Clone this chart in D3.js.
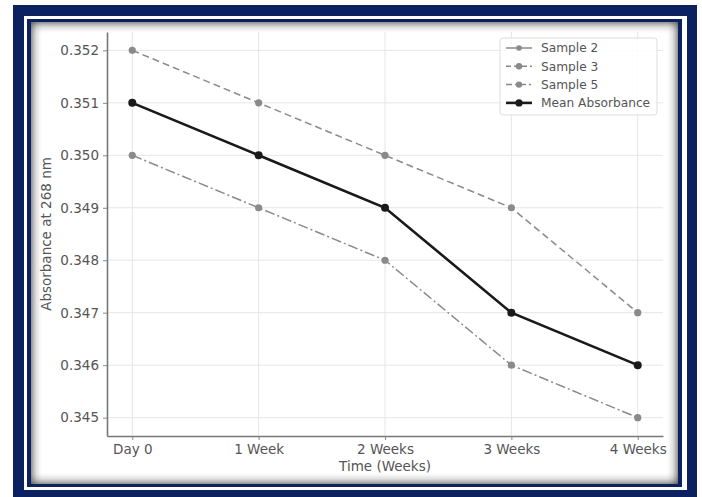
<!DOCTYPE html>
<html>
<head>
<meta charset="utf-8">
<script src="https://cdn.jsdelivr.net/npm/d3@7"></script>
<style>
html,body{margin:0;padding:0;background:#fff;}
svg{display:block;}
text{font-family:"DejaVu Sans",sans-serif;}
</style>
</head>
<body>
<svg id="chart" width="702" height="497"></svg>
<script>
const categories = ["Day 0", "1 Week", "2 Weeks", "3 Weeks", "4 Weeks"];
const sample2 = [0.351, 0.350, 0.349, 0.347, 0.346];
const sample3 = [0.352, 0.351, 0.350, 0.349, 0.347];
const sample5 = [0.350, 0.349, 0.348, 0.346, 0.345];
const meanAbs = [0.351, 0.350, 0.349, 0.347, 0.346];
const yTicks = [0.345, 0.346, 0.347, 0.348, 0.349, 0.350, 0.351, 0.352];
const seriesNames = ["Sample 2", "Sample 3", "Sample 5", "Mean Absorbance"];

const svg = d3.select("#chart");
const navy = "#0b2160";

// Frame
svg.append("rect").attr("x",13).attr("y",5).attr("width",684).attr("height",500).attr("fill",navy);
svg.append("rect").attr("x",24).attr("y",16).attr("width",663).attr("height",474).attr("fill","#fff");
svg.append("rect").attr("x",27).attr("y",19).attr("width",655).attr("height",468).attr("fill",navy);
const cx0=31, cy0=22, cw=647, ch=462;
svg.append("rect").attr("x",cx0).attr("y",cy0).attr("width",cw).attr("height",ch).attr("fill","#fff");

const defs = svg.append("defs");
defs.append("clipPath").attr("id","contentClip").append("rect")
  .attr("x",cx0).attr("y",cy0).attr("width",cw).attr("height",ch);
const f = defs.append("filter").attr("id","blur").attr("x","-10%").attr("y","-10%").attr("width","120%").attr("height","120%");
f.append("feGaussianBlur").attr("stdDeviation",5);
svg.append("g").attr("clip-path","url(#contentClip)")
  .append("rect")
  .attr("x",cx0-6).attr("y",cy0-6).attr("width",cw+12).attr("height",ch+12)
  .attr("fill","none").attr("stroke","#222").attr("stroke-width",14)
  .attr("filter","url(#blur)").attr("opacity",0.85);

// Axes
const pLeft=107, pRight=663, pTop=32, pBottom=436;
const x = d3.scaleLinear().domain([-0.2, 4.2]).range([pLeft, pRight]);
const y = d3.scaleLinear().domain([0.34465, 0.35235]).range([pBottom, pTop]);

const g = svg.append("g");
// grid
g.append("g").selectAll("line").data(categories).join("line")
  .attr("x1",(d,i)=>x(i)).attr("x2",(d,i)=>x(i)).attr("y1",pTop).attr("y2",pBottom)
  .attr("stroke","#e6e6e6").attr("stroke-width",1);
g.append("g").selectAll("line").data(yTicks).join("line")
  .attr("x1",pLeft).attr("x2",pRight).attr("y1",d=>y(d)).attr("y2",d=>y(d))
  .attr("stroke","#e6e6e6").attr("stroke-width",1);

const xAxis = g.append("g").attr("transform",`translate(0,${pBottom})`)
  .call(d3.axisBottom(x).tickValues([0,1,2,3,4]).tickFormat(i=>categories[i]).tickSize(4).tickPadding(4).tickSizeOuter(0));
const yAxis = g.append("g").attr("transform",`translate(${pLeft},0)`)
  .call(d3.axisLeft(y).tickValues(yTicks).tickFormat(d3.format(".3f")).tickSize(4).tickPadding(4).tickSizeOuter(0));
[xAxis,yAxis].forEach(a=>{
  a.select(".domain").attr("stroke","#777").attr("stroke-width",1.6);
  a.selectAll(".tick line").attr("stroke","#888");
  a.selectAll(".tick text").attr("fill","#555").style("font-size","13.5px").style("font-family","DejaVu Sans");
});

svg.append("text").attr("x",(pLeft+pRight)/2).attr("y",471).attr("text-anchor","middle")
  .attr("fill","#555").style("font-size","13.5px").text("Time (Weeks)");
svg.append("text").attr("transform",`translate(51,${(pTop+pBottom)/2}) rotate(-90)`).attr("text-anchor","middle")
  .attr("fill","#555").style("font-size","13.5px").text("Absorbance at 268 nm");

// Series
const series = [
  {name:seriesNames[0], values:sample2, color:"#8a8a8a", dash:null, w:1.5, r:3.2},
  {name:seriesNames[1], values:sample3, color:"#8a8a8a", dash:"7,4", w:1.5, r:3.6},
  {name:seriesNames[2], values:sample5, color:"#8a8a8a", dash:"10,3,2,3", w:1.5, r:3.6},
  {name:seriesNames[3], values:meanAbs, color:"#1a1a1a", dash:null, w:2.6, r:4}
];
const line = d3.line().x((d,i)=>x(i)).y(d=>y(d));
series.forEach(s=>{
  g.append("path").datum(s.values).attr("d",line).attr("fill","none")
    .attr("stroke",s.color).attr("stroke-width",s.w).attr("stroke-dasharray",s.dash);
  g.append("g").selectAll("circle").data(s.values).join("circle")
    .attr("cx",(d,i)=>x(i)).attr("cy",d=>y(d)).attr("r",s.r).attr("fill",s.color);
});

// Legend
const lg = svg.append("g");
lg.append("rect").attr("x",500).attr("y",38).attr("width",157).attr("height",77).attr("rx",3)
  .attr("fill","#fff").attr("fill-opacity",0.85).attr("stroke","#ddd");
series.forEach((s,i)=>{
  const yy = 48 + i*18.3;
  lg.append("line").attr("x1",506).attr("x2",532).attr("y1",yy).attr("y2",yy)
    .attr("stroke",s.color).attr("stroke-width",s.w).attr("stroke-dasharray",s.dash?(i===1?"5,3":"6,3,2,3"):null);
  lg.append("circle").attr("cx",519).attr("cy",yy).attr("r",s.r-0.4).attr("fill",s.color);
  lg.append("text").attr("x",541).attr("y",yy).attr("dy","0.35em").attr("fill","#555")
    .style("font-size","12.2px").text(s.name);
});
</script>
</body>
</html>
